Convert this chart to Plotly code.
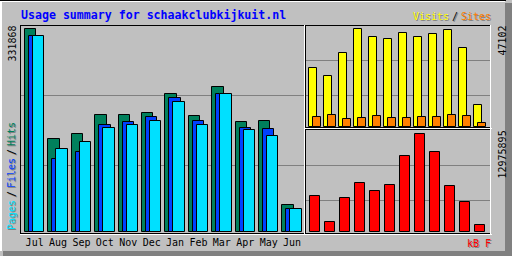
import plotly.graph_objects as go

# ---------------- data ----------------
months = ["Jul", "Aug", "Sep", "Oct", "Nov", "Dec", "Jan", "Feb", "Mar", "Apr", "May", "Jun"]
hits = [331868, 152200, 160400, 191500, 191500, 194800, 225900, 189900, 237400, 180100, 181700, 44200]
files = [320900, 119500, 131000, 175200, 180100, 188300, 219400, 181700, 225900, 170200, 168600, 37700]
pages = [320900, 135900, 147300, 170200, 175200, 181700, 212800, 175200, 225900, 167000, 157200, 37700]
visits = [28400, 24500, 35600, 47102, 43300, 42300, 45200, 43300, 44700, 46600, 38000, 10600]
sites = [4800, 5800, 3800, 4300, 5300, 4300, 4300, 4800, 4800, 5800, 5300, 1900]
kbytes = [4790000, 1360000, 4530000, 6510000, 5450000, 6240000, 10070000, 12975895, 10600000, 6110000, 4000000, 960000]

title_text = "Usage summary for schaakclubkijkuit.nl"

# ---------------- style ----------------
W, H = 512, 256
GREY = "#C0C0C0"
DKGREY = "#808080"
HITC = "#00805C"
FILEC = "#0040FF"
PAGEC = "#00E0FF"
VISITC = "#FFFF00"
SITEC = "#FF8000"
KBC = "#FF0000"
MONO = "DejaVu Sans Mono"


def fx(px):
    return px / W


def fy(py):
    return 1 - py / H


idx = list(range(len(months)))

fig = go.Figure()


def bar(y, color, off, wid, xa, ya):
    return go.Bar(x=idx, y=y, marker=dict(color=color, line=dict(color="black", width=1)),
                  offset=off, width=wid, xaxis=xa, yaxis=ya, hoverinfo="skip",
                  showlegend=False)


fig.add_trace(bar(hits, HITC, -0.412, 0.483, "x", "y"))
fig.add_trace(bar(files, FILEC, -0.241, 0.483, "x", "y"))
fig.add_trace(bar(pages, PAGEC, -0.0705, 0.483, "x", "y"))
fig.add_trace(bar(visits, VISITC, -0.40, 0.513, "x2", "y2"))
fig.add_trace(bar(sites, SITEC, -0.133, 0.513, "x2", "y2"))
fig.add_trace(bar(kbytes, KBC, -0.313, 0.627, "x3", "y3"))

# axis scaling (bar max is a bit below the frame top)
ymax1 = max(hits) * 207 / 202.7
ymax2 = max(visits) * 102.3 / 98
ymax3 = max(kbytes) * 102.3 / 98.3

yax_common = dict(showticklabels=False, ticks="", zeroline=False, showline=False,
                  gridcolor=DKGREY, gridwidth=1, showgrid=True, fixedrange=True)
xax_common = dict(showgrid=False, zeroline=False, showline=False, ticks="", fixedrange=True)

fig.update_layout(
    width=W, height=H,
    margin=dict(l=0, r=0, t=0, b=0),
    paper_bgcolor=GREY, plot_bgcolor=GREY,
    barmode="overlay",
    bargap=0,
    showlegend=False,
    xaxis=dict(domain=[fx(20), fx(304)], range=[-0.626, 11.51], tickvals=idx, ticktext=months,
               tickfont=dict(family=MONO, size=10, color="black"), ticklabelstandoff=3,
               anchor="y", **xax_common),
    yaxis=dict(domain=[fy(232), fy(25)], range=[0, ymax1],
               tickvals=[ymax1 * 67 / 207, ymax1 * 137 / 207], anchor="x", **yax_common),
    xaxis2=dict(domain=[fx(305), fx(490)], range=[-0.667, 11.667], showticklabels=False,
                anchor="y2", **xax_common),
    yaxis2=dict(domain=[fy(127.3), fy(25)], range=[0, ymax2],
                tickvals=[ymax2 * 32.3 / 102.3, ymax2 * 67.3 / 102.3], anchor="x2", **yax_common),
    xaxis3=dict(domain=[fx(305), fx(490)], range=[-0.667, 11.667], showticklabels=False,
                anchor="y3", **xax_common),
    yaxis3=dict(domain=[fy(232.3), fy(130)], range=[0, ymax3],
                tickvals=[ymax3 * 32 / 102.3, ymax3 * 67 / 102.3], anchor="x3", **yax_common),
)

shapes = []


def hline(row, x0, x1, color):
    shapes.append(dict(type="line", xref="paper", yref="paper", x0=fx(x0), x1=fx(x1 + 1),
                       y0=fy(row + 0.5), y1=fy(row + 0.5), line=dict(color=color, width=1),
                       layer="above"))


def vline(col, y0, y1, color):
    shapes.append(dict(type="line", xref="paper", yref="paper", x0=fx(col + 0.5), x1=fx(col + 0.5),
                       y0=fy(y0), y1=fy(y1 + 1), line=dict(color=color, width=1), layer="above"))


def rect(x0, y0, x1, y1, color):
    shapes.append(dict(type="rect", xref="paper", yref="paper", x0=fx(x0), x1=fx(x1),
                       y0=fy(y1), y1=fy(y0), fillcolor=color, line=dict(width=0), layer="above"))


# outer border / shadow
rect(505, 3, 512, 256, DKGREY)
rect(3, 251, 512, 256, DKGREY)
hline(0, 0, 505, "black")
hline(1, 1, 504, "white")
vline(0, 1, 250, "white")
vline(1, 1, 250, "white")

# main panel frame
hline(25, 20, 304, "black")
vline(20, 25, 233, "black")
hline(233, 20, 304, "black")
hline(234, 20, 305, "white")
vline(304, 25, 234, "white")

# top right panel
hline(25, 305, 490, "black")
vline(305, 25, 127, "black")
hline(127, 305, 490, "black")
hline(128, 305, 491, "white")
vline(490, 25, 128, "white")

# bottom right panel
hline(129, 305, 490, "black")
vline(305, 129, 233, "black")
hline(233, 305, 490, "black")
hline(234, 305, 491, "white")
vline(490, 129, 234, "white")

fig.update_layout(shapes=shapes)

ann = []


def text(s, x, y, color, size=10, bold=False, angle=0, xanchor="left", shadow=True):
    t = "<b>" + s + "</b>" if bold else s
    if shadow:
        ann.append(dict(text=t, x=fx(x + 1), y=fy(y + 1), xref="paper", yref="paper", showarrow=False,
                        font=dict(family=MONO, size=size, color=DKGREY), textangle=angle,
                        xanchor=xanchor, yanchor="middle", borderpad=0))
    ann.append(dict(text=t, x=fx(x), y=fy(y), xref="paper", yref="paper", showarrow=False,
                    font=dict(family=MONO, size=size, color=color), textangle=angle,
                    xanchor=xanchor, yanchor="middle", borderpad=0))


# title
text(title_text, 20, 14.5, "#0000FF", size=11.6, bold=True, shadow=False)
# visits / sites legend
text("Visits", 412, 16.5, VISITC)
text("/", 451, 16.5, "black")
text("Sites", 460, 16.5, SITEC)
# kB F legend
text("kB F", 466, 243, KBC)
# left vertical legend
text("Pages", 11, 215, PAGEC, angle=-90, xanchor="center")
text("/", 11, 194, "black", angle=-90, xanchor="center")
text("Files", 11, 173, FILEC, angle=-90, xanchor="center")
text("/", 11, 152, "black", angle=-90, xanchor="center")
text("Hits", 11, 134, HITC, angle=-90, xanchor="center")
# max values
text(str(max(hits)), 11.5, 44, "black", angle=-90, xanchor="center", shadow=False)
text(str(max(visits)), 501.5, 41, "black", angle=-90, xanchor="center", shadow=False)
text(str(max(kbytes)), 501.5, 155, "black", angle=-90, xanchor="center", shadow=False)

fig.update_layout(annotations=ann)

fig.write_html("out.html")
